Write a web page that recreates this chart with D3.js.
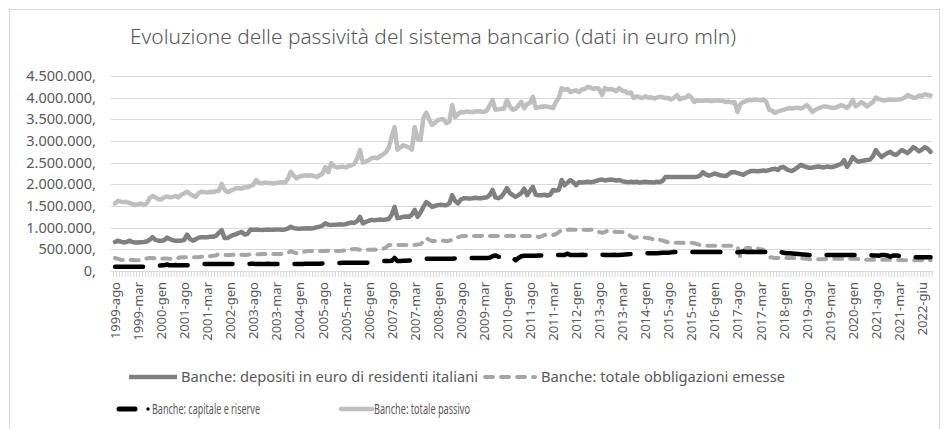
<!DOCTYPE html>
<html>
<head>
<meta charset="utf-8">
<script src="https://cdn.jsdelivr.net/npm/d3@7"></script>
<style>
  html, body { margin: 0; padding: 0; background: #fff; }
  svg { display: block; }
  text { font-family: "Noto Sans", "Open Sans", sans-serif; fill: #595959; }
</style>
</head>
<body>
<svg id="chart" width="944" height="429"></svg>
<script>
// Years shown on the category axis; months are listed in alphabetical order, as in the source sheet
const years = d3.range(1999, 2023);
const monthsFull = ["ago","apr","dic","feb","gen","giu","lug","mag","mar","nov","ott","set"];
const months2022 = ["ago","apr","feb","gen","giu","lug","mag","mar"];

// Values in thousands of euro mln, one row per year (same month order as above)
const depositi = [
  670,700,680,660,670,700,670,660,660,665,670,680,
  720,780,720,700,700,710,770,740,710,700,700,700,
  720,840,740,700,730,770,780,780,780,790,790,810,
  880,940,760,760,800,830,850,880,900,840,860,960,
  950,960,950,945,950,955,950,950,955,960,950,960,
  980,1020,990,980,975,980,980,985,980,990,1010,1020,
  1050,1100,1070,1060,1070,1070,1080,1070,1080,1100,1120,1110,
  1150,1250,1100,1130,1160,1180,1170,1180,1190,1180,1190,1200,
  1300,1480,1220,1230,1250,1260,1250,1300,1410,1250,1350,1480,
  1590,1540,1480,1500,1520,1530,1520,1520,1560,1750,1620,1560,
  1650,1680,1680,1670,1680,1690,1680,1680,1690,1700,1750,1870,
  1700,1680,1710,1800,1910,1800,1750,1710,1750,1800,1900,1750,
  1850,1940,1760,1750,1750,1760,1740,1760,1870,1860,1870,2100,
  1980,2040,2100,2050,1980,2050,2040,2050,2060,2050,2060,2080,
  2100,2110,2090,2100,2110,2100,2090,2100,2070,2060,2050,2060,
  2050,2060,2040,2050,2060,2050,2050,2040,2060,2050,2080,2170,
  2170,2170,2170,2170,2170,2170,2170,2170,2170,2170,2175,2200,
  2280,2230,2200,2220,2250,2230,2210,2200,2190,2240,2280,2280,
  2260,2240,2220,2260,2290,2310,2310,2300,2310,2320,2310,2330,
  2350,2360,2330,2390,2400,2350,2320,2310,2350,2400,2450,2420,
  2400,2380,2390,2400,2410,2400,2390,2410,2400,2400,2420,2450,
  2470,2560,2400,2500,2630,2560,2520,2540,2550,2560,2570,2650,
  2790,2700,2630,2680,2720,2750,2700,2680,2730,2790,2760,2720,
  2780,2860,2820,2760,2800,2860,2820,2750
];

const obbligazioni = [
  300,280,260,250,250,250,260,250,250,250,270,290,
  300,300,290,280,280,290,290,280,290,300,300,320,
  320,320,310,320,320,320,330,320,330,340,350,360,
  390,380,370,370,370,375,370,370,375,370,375,380,
  390,390,385,390,390,390,395,390,390,390,395,400,
  420,460,430,410,420,440,450,460,460,460,460,460,
  460,460,465,460,470,460,460,470,480,490,500,510,
  500,490,490,490,490,490,495,490,500,510,540,600,
  600,600,600,600,600,600,600,600,600,610,620,680,
  760,720,690,690,690,690,700,690,700,720,760,780,
  800,810,810,810,805,810,810,810,815,810,810,810,
  810,810,805,810,810,815,810,810,810,810,810,810,
  810,810,810,780,800,830,830,830,830,850,900,950,
  950,950,960,950,955,950,950,950,945,950,950,930,
  900,880,900,930,920,910,900,900,900,880,850,800,
  760,780,790,780,770,760,750,720,740,720,700,680,
  660,650,650,650,650,650,645,650,650,640,620,600,
  600,590,580,580,580,580,580,580,580,580,580,580,
  560,320,450,530,530,530,530,520,500,490,420,320,
  310,300,300,300,300,300,300,300,300,300,300,290,
  280,270,270,270,270,270,270,280,280,280,280,280,
  280,280,280,280,280,280,275,270,265,260,260,260,
  260,260,260,260,260,260,260,260,255,255,250,250,
  250,250,250,250,250,250,250,250
];

const capitale = [
  100,100,100,100,100,100,100,100,100,100,100,100,
  100,100,110,120,130,130,150,130,130,140,130,130,
  130,130,140,145,150,155,160,160,160,160,160,160,
  160,160,160,160,160,165,160,160,160,160,160,165,
  165,160,160,160,160,165,160,160,160,160,165,165,
  160,160,165,160,160,160,165,165,165,165,170,170,
  175,180,180,180,180,185,185,190,190,190,190,190,
  190,190,190,190,195,200,210,220,225,230,230,230,
  235,300,230,230,235,235,240,240,240,250,260,270,
  280,280,280,280,280,280,285,280,285,285,290,290,
  290,290,295,300,300,300,300,300,300,300,305,340,
  360,330,330,340,360,330,300,250,300,340,350,350,
  350,350,350,355,355,360,360,360,365,365,370,370,
  370,400,370,370,370,370,375,370,370,370,375,370,
  370,375,370,370,370,375,370,370,375,380,385,390,
  400,405,410,405,410,410,410,410,410,415,420,420,
  420,430,440,440,440,440,440,440,440,440,440,440,
  440,440,440,440,440,440,440,440,440,440,440,440,
  430,440,450,440,440,445,440,440,445,440,440,430,
  410,420,415,440,420,410,410,405,400,395,385,380,
  375,370,370,370,370,370,370,370,370,370,370,370,
  370,370,370,370,370,370,360,370,370,370,370,360,
  360,350,370,370,360,330,355,360,350,340,330,320,
  320,320,320,320,320,320,320,320
];

const passivo = [
  1560,1620,1600,1590,1590,1570,1550,1520,1540,1560,1520,1560,
  1680,1730,1700,1660,1650,1700,1720,1700,1710,1730,1700,1760,
  1790,1830,1780,1740,1710,1800,1830,1820,1810,1830,1820,1840,
  1850,2010,1880,1820,1850,1880,1910,1910,1900,1930,1930,1960,
  1990,2100,2030,2020,2040,2030,2030,2020,2030,2040,2050,2040,
  2130,2290,2200,2140,2180,2200,2210,2200,2210,2190,2170,2210,
  2250,2400,2280,2490,2420,2390,2400,2410,2390,2420,2440,2470,
  2590,2790,2500,2520,2560,2600,2620,2600,2650,2690,2740,2850,
  3100,3320,2800,2850,2900,2880,2850,2800,3320,3050,3020,3530,
  3650,3500,3370,3420,3480,3500,3500,3410,3450,3830,3550,3620,
  3670,3660,3680,3670,3670,3680,3690,3680,3670,3700,3820,3950,
  3720,3730,3740,3750,3950,3800,3720,3740,3820,3900,3760,3850,
  3880,4020,3760,3780,3790,3800,3790,3780,3760,3900,4000,4220,
  4180,4200,4130,4150,4170,4130,4190,4200,4250,4230,4200,4220,
  4200,4060,4220,4190,4200,4180,4150,4220,4160,4150,4100,4120,
  3990,4030,4010,3990,4030,4000,4010,3980,4000,4020,4010,3990,
  3990,3960,4000,4060,3960,3990,4000,4060,4000,3900,3940,3930,
  3930,3940,3930,3920,3930,3940,3930,3920,3900,3910,3890,3900,
  3670,3850,3900,3920,3950,3940,3960,3950,3940,3960,3900,3720,
  3700,3650,3680,3700,3720,3740,3760,3750,3760,3770,3750,3780,
  3830,3760,3670,3720,3750,3780,3800,3790,3780,3760,3770,3800,
  3830,3800,3760,3830,3950,3800,3840,3900,3850,3800,3850,3900,
  4000,3970,3950,3930,3950,3960,3950,3950,3960,3970,4000,4060,
  4030,4000,4000,4050,4040,4080,4060,4050
];

const yTicks = [0, 500, 1000, 1500, 2000, 2500, 3000, 3500, 4000, 4500];
const titleText = "Evoluzione delle passività del sistema bancario (dati in euro mln)";

const seriesNames = [
  "Banche: depositi in euro di residenti italiani",
  "Banche: totale obbligazioni emesse",
  "Banche: capitale e riserve",
  "Banche: totale passivo"
];

// Category labels: year-month
const categories = [];
years.forEach(y => {
  (y === 2022 ? months2022 : monthsFull).forEach(m => categories.push(y + "-" + m));
});

const svg = d3.select("#chart");

// Chart frame
svg.append("rect")
  .attr("x", 9.5).attr("y", 9.5).attr("width", 930).attr("height", 440)
  .attr("fill", "none").attr("stroke", "#D9D9D9").attr("stroke-width", 1);

// Title
svg.append("text")
  .attr("x", 130).attr("y", 44)
  .attr("font-size", 20.5).attr("font-weight", 300)
  .attr("textLength", 606).attr("lengthAdjust", "spacingAndGlyphs")
  .text(titleText);

const x = d3.scaleBand().domain(categories).range([113.6, 932]);
const y = d3.scaleLinear().domain([0, 4500]).range([271, 76]);
const cx = c => x(c) + x.bandwidth() / 2;

// Horizontal gridlines
svg.append("g").selectAll("line")
  .data(yTicks.filter(t => t > 0))
  .join("line")
  .attr("x1", 111).attr("x2", 932)
  .attr("y1", d => Math.round(y(d)) + 0.5).attr("y2", d => Math.round(y(d)) + 0.5)
  .attr("stroke", "#D9D9D9").attr("stroke-width", 1.2);

// Y axis labels
const fmt = v => d3.format(",")(v * 1000).replace(/,/g, ".") + ",";
svg.append("g")
  .attr("transform", "translate(96,0)")
  .call(d3.axisLeft(y).tickValues(yTicks).tickSize(0).tickPadding(0).tickFormat(fmt))
  .call(g => g.select(".domain").remove())
  .call(g => g.selectAll("text")
    .attr("fill", "#595959").attr("font-size", 14.5)
    .attr("font-family", "'Noto Sans', sans-serif"));

// Category axis: baseline plus a tick at each category boundary
const xAxisG = svg.append("g").attr("transform", "translate(0,271)");
xAxisG.append("line")
  .attr("x1", 111).attr("x2", 932).attr("y1", 0.5).attr("y2", 0.5)
  .attr("stroke", "#D9D9D9").attr("stroke-width", 1.2);
xAxisG.selectAll("line.tk")
  .data(categories.concat([null]))
  .join("line")
  .attr("class", "tk")
  .attr("x1", (d, i) => 113.6 + i * x.step())
  .attr("x2", (d, i) => 113.6 + i * x.step())
  .attr("y1", 0).attr("y2", 6)
  .attr("stroke", "#D9D9D9").attr("stroke-width", 1);

// Rotated category labels, one every 8 categories
svg.append("g").selectAll("text")
  .data(categories.filter((c, i) => i % 8 === 0))
  .join("text")
  .attr("transform", d => `translate(${cx(d)},282) rotate(-90)`)
  .attr("text-anchor", "end")
  .attr("dominant-baseline", "central")
  .attr("font-size", 13)
  .text(d => d);

// Series lines
const series = [
  { name: seriesNames[0], values: depositi, color: "#808080", width: 4.5, dash: null },
  { name: seriesNames[1], values: obbligazioni, color: "#A6A6A6", width: 4, dash: "8,8" },
  { name: seriesNames[2], values: capitale, color: "#000000", width: 4.5, dash: "28,17" },
  { name: seriesNames[3], values: passivo, color: "#BFBFBF", width: 4.5, dash: null }
];

const line = d3.line()
  .x((d, i) => cx(categories[i]))
  .y(d => y(d));

svg.append("g").selectAll("path")
  .data(series)
  .join("path")
  .attr("d", s => line(s.values))
  .attr("fill", "none")
  .attr("stroke", s => s.color)
  .attr("stroke-width", s => s.width)
  .attr("stroke-linejoin", "round")
  .attr("stroke-linecap", "round")
  .attr("stroke-dasharray", s => s.dash);

// Legend
const lg = svg.append("g");
// depositi
lg.append("line").attr("x1", 129).attr("x2", 177).attr("y1", 377).attr("y2", 377)
  .attr("stroke", "#808080").attr("stroke-width", 4.5);
lg.append("text").attr("x", 181).attr("y", 382).attr("font-size", 15)
  .attr("textLength", 297).attr("lengthAdjust", "spacingAndGlyphs").text(seriesNames[0]);
// obbligazioni
lg.append("line").attr("x1", 485).attr("x2", 535).attr("y1", 377).attr("y2", 377)
  .attr("stroke", "#A6A6A6").attr("stroke-width", 4)
  .attr("stroke-linecap", "round").attr("stroke-dasharray", "8,8");
lg.append("text").attr("x", 541).attr("y", 382).attr("font-size", 15)
  .attr("textLength", 244).attr("lengthAdjust", "spacingAndGlyphs").text(seriesNames[1]);
// capitale
lg.append("line").attr("x1", 119).attr("x2", 135).attr("y1", 409).attr("y2", 409)
  .attr("stroke", "#000").attr("stroke-width", 5).attr("stroke-linecap", "round");
lg.append("circle").attr("cx", 148).attr("cy", 409).attr("r", 1.7).attr("fill", "#000");
lg.append("text").attr("x", 152).attr("y", 414).attr("font-size", 15)
  .attr("textLength", 108).attr("lengthAdjust", "spacingAndGlyphs").text(seriesNames[2]);
// passivo
lg.append("line").attr("x1", 341).attr("x2", 372).attr("y1", 409).attr("y2", 409)
  .attr("stroke", "#BFBFBF").attr("stroke-width", 4.5).attr("stroke-linecap", "round");
lg.append("text").attr("x", 374).attr("y", 414).attr("font-size", 15)
  .attr("textLength", 96).attr("lengthAdjust", "spacingAndGlyphs").text(seriesNames[3]);
</script>
</body>
</html>
